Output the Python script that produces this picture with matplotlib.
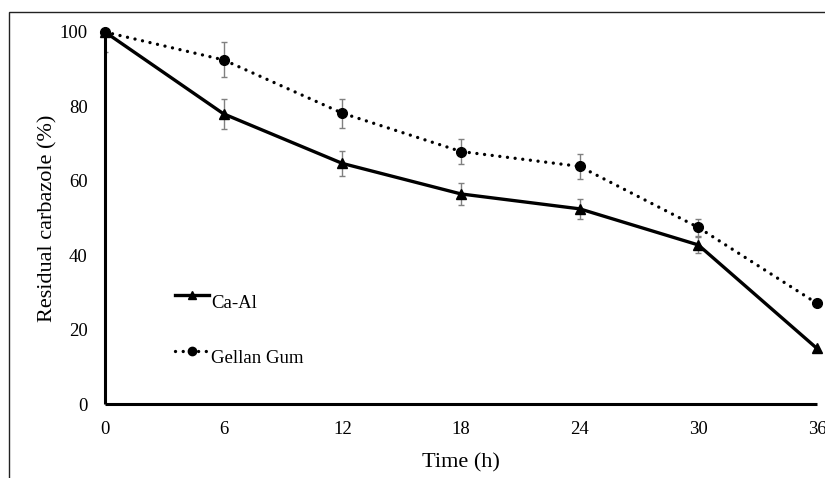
import matplotlib
matplotlib.use("Agg")
import matplotlib.pyplot as plt
from matplotlib.patches import Rectangle

plt.rcParams['font.family'] = ['Liberation Serif', 'DejaVu Serif']

# data
time_h = [0, 6, 12, 18, 24, 30, 36]
ca_al = [100, 78.0, 64.7, 56.5, 52.5, 42.8, 15.0]
ca_al_err = [0, 4.0, 3.4, 2.9, 2.6, 2.2, 0]
gellan = [100, 92.5, 78.2, 67.9, 63.9, 47.5, 27.1]
gellan_err = [5.3, 4.7, 3.9, 3.3, 3.3, 2.4, 0]
x_ticks = [0, 6, 12, 18, 24, 30, 36]
y_ticks = [0, 20, 40, 60, 80, 100]
series_names = ['Ca-Al', 'Gellan Gum']

DOTTED = (0, (0.01, 2.3))

fig = plt.figure(figsize=(8.25, 4.78), dpi=100)
ax = fig.add_axes([105 / 825, 1 - 404.3 / 478, 712 / 825, 372.3 / 478])

# outer frame of the original (cut off on the right and bottom)
fig.patches.append(Rectangle((9 / 825, -0.2), 2.0, 1.2 - 12 / 478,
                             transform=fig.transFigure, fill=False,
                             edgecolor='#222222', linewidth=1.0))

ax.errorbar(time_h, ca_al, yerr=ca_al_err, fmt='none', ecolor='#808080',
            elinewidth=1, capsize=2.5, capthick=1, zorder=2)
ax.errorbar(time_h, gellan, yerr=gellan_err, fmt='none', ecolor='#808080',
            elinewidth=1, capsize=2.5, capthick=1, zorder=2)

ax.plot(time_h, ca_al, color='black', linewidth=2.4, marker='^',
        markersize=7, zorder=3, clip_on=False)
ax.plot(time_h, gellan, color='black', linewidth=2.4, linestyle=DOTTED,
        dash_capstyle='round', marker='o', markersize=7, zorder=3, clip_on=False)

ax.set_xlim(0, 36)
ax.set_ylim(0, 100)
ax.set_xticks(x_ticks)
ax.set_yticks(y_ticks)
ax.tick_params(length=0, labelsize=13.5)
ax.tick_params(axis='x', pad=12)
ax.tick_params(axis='y', pad=12.5)

for s in ['top', 'right']:
    ax.spines[s].set_visible(False)
for s in ['left', 'bottom']:
    ax.spines[s].set_linewidth(2.2)
    ax.spines[s].set_color('black')
    ax.spines[s].set_capstyle('butt')

ax.set_xlabel('Time (h)', fontsize=16)
ax.set_ylabel('Residual carbazole (%)', fontsize=16)
ax.xaxis.set_label_coords(0.5, -0.132)
ax.yaxis.set_label_coords(-0.067, 0.5)

# Excel-style legend: text sits a little below the handle
tr = ax.transAxes
ax.plot([0.0983, 0.146], [0.2936, 0.2936], color='black', linewidth=2.4,
        transform=tr, clip_on=False)
ax.plot([0.122], [0.2936], marker='^', markersize=6, color='black',
        transform=tr, clip_on=False)
ax.text(0.149, 0.272, series_names[0], fontsize=13.5, va='center', ha='left',
        transform=tr)
ax.plot([0.0983, 0.146], [0.144, 0.144], color='black', linewidth=2.4,
        linestyle=DOTTED, dash_capstyle='round', transform=tr, clip_on=False)
ax.plot([0.122], [0.144], marker='o', markersize=6, color='black',
        transform=tr, clip_on=False)
ax.text(0.149, 0.122, series_names[1], fontsize=13.5, va='center', ha='left',
        transform=tr)

fig.savefig('out.png', dpi=100)
